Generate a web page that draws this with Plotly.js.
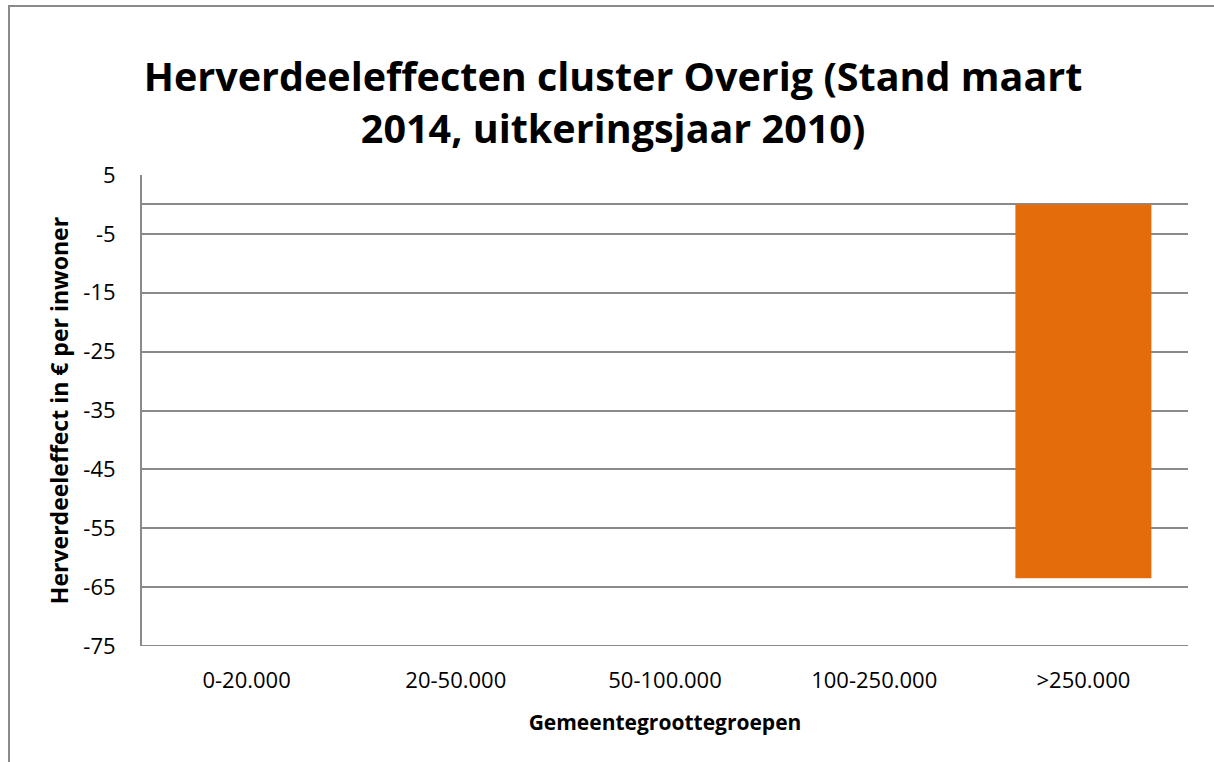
<!DOCTYPE html>
<html>
<head>
<meta charset="utf-8">
<script src="https://cdn.plot.ly/plotly-3.0.1.min.js"></script>
<style>
  body { margin: 0; background: #fff; }
  #frame { position: absolute; left: 8px; top: 5px; width: 1220px; height: 770px;
           border-left: 2px solid #8a8a8a; border-top: 2px solid #8a8a8a; }
  #chart { position: absolute; left: 0; top: 0; width: 1214px; height: 762px; }
</style>
</head>
<body>
<div id="frame"></div>
<div id="chart"></div>
<script>
'use strict'

let groepen = ['0-20.000', '20-50.000', '50-100.000', '100-250.000', '>250.000']
let effect = [0, 0, 0, 0, -63.5]
let yTicks = [5, -5, -15, -25, -35, -45, -55, -65, -75]

let trace = {
  x: groepen,
  y: effect,
  type: 'bar',
  marker: {color: '#e46c0a'},
  hoverinfo: 'x+y'
}

let layout = {
  width: 1214,
  height: 762,
  margin: {l: 142, r: 26, t: 175, b: 116},
  paper_bgcolor: 'rgba(0,0,0,0)',
  plot_bgcolor: 'rgba(0,0,0,0)',
  font: {family: 'Open Sans, Liberation Sans, sans-serif', color: '#000'},
  title: {
    text: '<b>Herverdeeleffecten cluster Overig (Stand maart<br>2014, uitkeringsjaar 2010)</b>',
    font: {size: 39.5, color: '#000', lineposition: 'none'},
    x: 0.505, xanchor: 'center',
    yref: 'container', y: 0.88, yanchor: 'middle'
  },
  bargap: 0.35,
  showlegend: false,
  xaxis: {
    type: 'category',
    showgrid: false,
    showline: false,
    ticks: '',
    tickfont: {size: 22},
    ticklabelstandoff: 19,
    title: {text: '<b>Gemeentegroottegroepen</b>', font: {size: 21}, standoff: 22}
  },
  yaxis: {
    range: [-75, 5],
    tickvals: yTicks,
    ticktext: yTicks.map(String),
    showgrid: true,
    gridcolor: '#8a8a8a',
    gridwidth: 1.5,
    zeroline: true,
    zerolinecolor: '#8a8a8a',
    zerolinewidth: 2,
    showline: true,
    linecolor: '#8a8a8a',
    linewidth: 2,
    ticks: '',
    tickfont: {size: 22},
    ticklabelstandoff: 20,
    title: {text: '<b>Herverdeeleffect in € per inwoner</b>', font: {size: 23}, standoff: 8}
  },
  shapes: [{
    type: 'line', xref: 'paper', yref: 'y',
    x0: 0, x1: 1, y0: -75, y1: -75,
    line: {color: '#8a8a8a', width: 2}
  }]
}

Plotly.newPlot('chart', [trace], layout, {displayModeBar: false})
</script>
</body>
</html>
